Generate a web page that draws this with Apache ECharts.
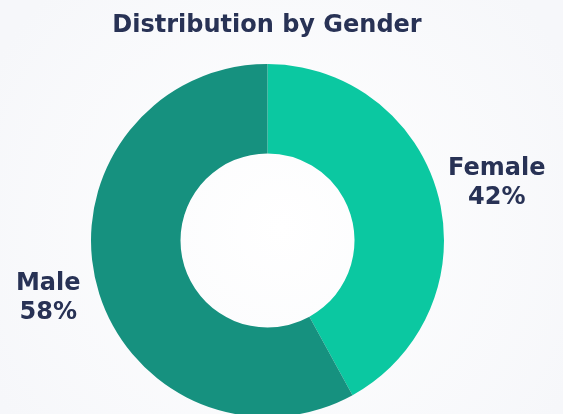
<!DOCTYPE html>
<html>
<head>
<meta charset="utf-8">
<script src="https://cdn.jsdelivr.net/npm/echarts@6/dist/echarts.min.js"></script>
<style>
  html, body { margin: 0; padding: 0; }
  #chart { width: 563px; height: 414px; }
</style>
</head>
<body>
<div id="chart"></div>
<script>
// data
var categories = ['Female', 'Male'];
var shares = [42, 58];
var colors = ['#0bc8a1', '#16917f'];

var textColor = '#283255';
var fontFamily = '"DejaVu Sans", "Noto Sans", sans-serif';

var myChart = echarts.init(document.getElementById('chart'));

var pieData = categories.map(function (name, i) {
  return { name: name, value: shares[i], itemStyle: { color: colors[i] } };
});

var option = {
  backgroundColor: {
    type: 'radial', x: 0.5, y: 0.55, r: 0.8,
    colorStops: [
      { offset: 0, color: '#ffffff' },
      { offset: 1, color: '#f6f7fa' }
    ]
  },
  title: {
    text: 'Distribution by Gender',
    left: 262,
    textAlign: 'center',
    top: 9,
    textStyle: {
      color: textColor,
      fontFamily: fontFamily,
      fontSize: 24,
      fontWeight: 'bold'
    }
  },
  series: [
    {
      type: 'pie',
      center: [267.5, 240.5],
      radius: [87, 176.5],
      startAngle: 90,
      clockwise: true,
      silent: true,
      avoidLabelOverlap: false,
      itemStyle: { borderWidth: 0 },
      label: {
        show: true,
        position: 'outside',
        alignTo: 'none',
        overflow: 'none',
        distanceToLabelLine: -5,
        padding: [0, 0, 0, 10],
        formatter: '{a|{b}}\n{a|{d}%}',
        rich: {
          a: {
            width: 120,
            align: 'center',
            color: textColor,
            fontFamily: fontFamily,
            fontSize: 24,
            fontWeight: 'bold',
            lineHeight: 29
          }
        }
      },
      labelLine: { show: false, length: 55, length2: -60 },
      data: pieData
    }
  ]
};
myChart.setOption(option);
</script>
</body>
</html>
